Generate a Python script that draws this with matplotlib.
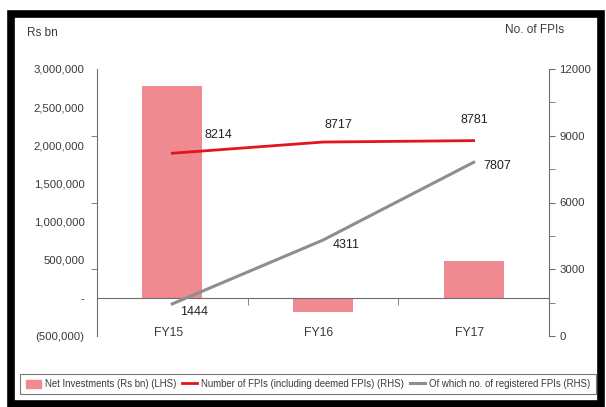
import numpy as np
import matplotlib
matplotlib.use("Agg")
import matplotlib.pyplot as plt
from matplotlib import font_manager
from matplotlib.patches import Rectangle
from matplotlib.ticker import FuncFormatter
from matplotlib.transforms import ScaledTranslation

# prefer a narrow face if one is installed
installed = {f.name for f in font_manager.fontManager.ttflist}
narrow = 'Liberation Sans Narrow' in installed
base = 'Liberation Sans Narrow' if narrow else 'Liberation Sans'
plt.rcParams['font.family'] = [base, 'DejaVu Sans']
k = 1.15 if narrow else 1.0

# data
years = ["FY15", "FY16", "FY17"]
net_investments = [2777000, -183000, 485000]    # Rs bn (LHS)
fpis_total = [8214, 8717, 8781]                  # incl. deemed FPIs (RHS)
fpis_registered = [1444, 4311, 7807]             # registered FPIs (RHS)

bar_color = "#EF8A90"
red = "#E3141B"
grey = "#8E8E8E"
axis_grey = "#6E6E6E"
text_col = "#3A3A3A"

fig = plt.figure(figsize=(6.06, 4.07), dpi=100)
ax = fig.add_axes([97 / 606, 1 - 336 / 407, 452 / 606, 267 / 407])
ax2 = ax.twinx()

x = np.arange(len(years))
ax.bar(x, net_investments, width=0.4, color=bar_color, zorder=2)
ax.set_xlim(-0.5, 2.5)
ax.set_ylim(-500000, 3000000)

# left axis: labels every 500,000, tick marks at odd spacing like the source
def lhs_fmt(v, pos):
    if v == 0:
        return "-"
    if v < 0:
        return "({:,.0f})".format(-v)
    return "{:,.0f}".format(v)

ax.set_yticks(np.arange(-500000, 3000001, 500000))
ax.yaxis.set_major_formatter(FuncFormatter(lhs_fmt))
ax.set_yticks([3000000, 2125000, 1250000, 375000, -500000], minor=True)
ax.tick_params(axis='y', which='major', length=0, pad=9, labelsize=8.2 * k, labelcolor=text_col)
ax.tick_params(axis='y', which='minor', length=4, direction='out', color=axis_grey)

# category axis sits on zero
ax.spines['bottom'].set_position(('data', 0))
ax.spines['bottom'].set_color(axis_grey)
ax.spines['top'].set_visible(False)
ax.spines['left'].set_color(axis_grey)
ax.spines['right'].set_visible(False)
ax.set_xticks(x)
ax.set_xticklabels(years)
ax.set_xticks([0.5, 1.5], minor=True)
ax.tick_params(axis='x', which='major', length=0, pad=21, labelsize=8.8 * k, labelcolor=text_col)
ax.tick_params(axis='x', which='minor', length=5, direction='out', color=axis_grey)
shift = ScaledTranslation(-4 / 100, 0, fig.dpi_scale_trans)
for lab in ax.get_xticklabels():
    lab.set_transform(lab.get_transform() + shift)

# right axis
ax2.plot(x, fpis_total, color=red, lw=2, zorder=3)
ax2.plot(x, fpis_registered, color=grey, lw=2.2, zorder=3)
ax2.set_ylim(0, 12000)
ax2.set_yticks(np.arange(0, 12001, 3000))
ax2.set_yticks(np.arange(0, 12001, 1500), minor=True)
ax2.tick_params(axis='y', which='both', length=4, direction='out', color=axis_grey,
                pad=3.5, labelsize=8.2 * k, labelcolor=text_col)
for s in ['top', 'bottom', 'left']:
    ax2.spines[s].set_visible(False)
ax2.spines['right'].set_color(axis_grey)

# data labels
offs_total = [(46, 18), (15, 17), (1, 21)]
offs_reg = [(22, -8), (23, -5), (24, -4)]
for xi, v, o in zip(x, fpis_total, offs_total):
    ax2.annotate(str(v), (xi, v), xytext=o, textcoords='offset pixels',
                 ha='center', va='center', fontsize=9 * k, color="#222222")
for xi, v, o in zip(x, fpis_registered, offs_reg):
    ax2.annotate(str(v), (xi, v), xytext=o, textcoords='offset pixels',
                 ha='center', va='center', fontsize=9 * k, color="#222222")

# axis titles
fig.text(27 / 606, 1 - 33 / 407, "Rs bn", fontsize=8.5 * k, color=text_col, va='center')
fig.text(505 / 606, 1 - 30 / 407, "No. of FPIs", fontsize=8.5 * k, color=text_col, va='center')

# legend
bar_handle = Rectangle((0, 0), 1, 1, color=bar_color)
handles = [bar_handle] + ax2.get_lines()
labels = ["Net Investments (Rs bn) (LHS)",
          "Number of FPIs (including deemed FPIs) (RHS)",
          "Of which no. of registered FPIs (RHS)"]
leg = fig.legend(handles, labels, loc='center', bbox_to_anchor=(308 / 606, 1 - 384 / 407),
                 ncol=3, fontsize=6.9 * k, frameon=True, fancybox=False, edgecolor="#555555",
                 handlelength=1.6, handleheight=0.9, handletextpad=0.45, columnspacing=0.55,
                 borderpad=0.55, borderaxespad=0, labelcolor=text_col)
leg.get_frame().set_linewidth(0.8)

# black frame around the whole picture
fig.patches.append(Rectangle((10.5 / 606, 3.5 / 407), 590.5 / 606, 389.5 / 407,
                             transform=fig.transFigure, fill=False,
                             edgecolor='black', linewidth=5.5))

fig.savefig("out.png", dpi=100)
